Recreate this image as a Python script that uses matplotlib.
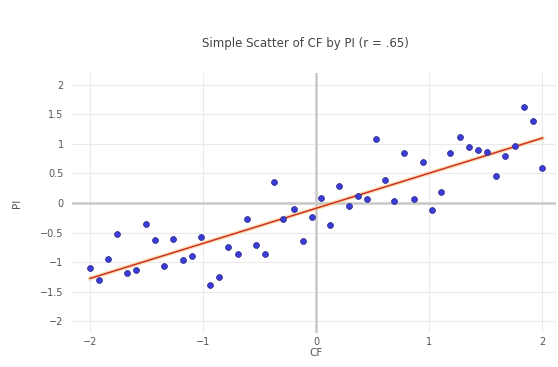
import numpy as np
import matplotlib
matplotlib.use('Agg')
import matplotlib.pyplot as plt

# Data
cf = [-2.00, -1.92, -1.84, -1.76, -1.67, -1.59, -1.51, -1.43, -1.35, -1.27,
      -1.18, -1.10, -1.02, -0.94, -0.86, -0.78, -0.69, -0.61, -0.53, -0.45,
      -0.37, -0.29, -0.20, -0.12, -0.04, 0.04, 0.12, 0.20, 0.29, 0.37,
      0.45, 0.53, 0.61, 0.69, 0.78, 0.86, 0.94, 1.02, 1.10, 1.18,
      1.27, 1.35, 1.43, 1.51, 1.59, 1.67, 1.76, 1.84, 1.92, 2.00]
pi = [-1.10, -1.30, -0.94, -0.53, -1.18, -1.14, -0.35, -0.63, -1.06, -0.61,
      -0.96, -0.90, -0.57, -1.38, -1.25, -0.74, -0.86, -0.27, -0.71, -0.86,
      0.35, -0.27, -0.10, -0.65, -0.23, 0.08, -0.38, 0.29, -0.05, 0.12,
      0.06, 1.09, 0.39, 0.03, 0.84, 0.07, 0.70, -0.12, 0.19, 0.85,
      1.12, 0.95, 0.89, 0.87, 0.45, 0.80, 0.96, 1.62, 1.39, 0.60]
x_ticks = [-2, -1, 0, 1, 2]
y_ticks = [-2, -1.5, -1, -0.5, 0, 0.5, 1, 1.5, 2]
title = "Simple Scatter of CF by PI (r = .65)"


def fmt(v):
    s = f"{v:g}"
    return s.replace("-", "\u2212")


fig = plt.figure(figsize=(5.58, 3.67), dpi=100)
ax = fig.add_axes([72 / 558, 1 - 333 / 367, 484 / 558, 260 / 367])

# grid and zero lines
for v in x_ticks:
    if v != 0:
        ax.axvline(v, color='#ebebeb', lw=0.8, zorder=0)
for v in y_ticks:
    if v != 0:
        ax.axhline(v, color='#ebebeb', lw=0.8, zorder=0)
ax.axvline(0, color='#c8c8c8', lw=1.8, zorder=1)
ax.axhline(0, color='#c8c8c8', lw=1.8, zorder=1)

# fitted line
slope, icpt = np.polyfit(cf, pi, 1)
xs = np.array([min(cf), max(cf)])
ax.plot(xs, icpt + slope * xs, color='#f5c26b', lw=3, alpha=0.5, zorder=2)
ax.plot(xs, icpt + slope * xs, color='#d0302a', lw=1.1, zorder=3)

ax.scatter(cf, pi, s=18, color='#3c3cd8', edgecolors='#262680',
           linewidths=0.5, zorder=4)

ax.set_xlim(-2.16, 2.12)
ax.set_ylim(-2.2, 2.2)
ax.set_xticks(x_ticks)
ax.set_yticks(y_ticks)
ax.set_xticklabels([fmt(v) for v in x_ticks])
ax.set_yticklabels([fmt(v) for v in y_ticks])
ax.tick_params(axis='x', length=0, labelsize=7, colors='#555555', pad=3)
ax.tick_params(axis='y', length=0, labelsize=7, colors='#555555', pad=6)
for s in ax.spines.values():
    s.set_visible(False)

fig.text(316 / 558, 1 - 353 / 367, "CF", ha='center', va='center',
         fontsize=7.5, color='#555555')
fig.text(17 / 558, 1 - 203 / 367, "PI", ha='center', va='center',
         rotation=90, fontsize=7.5, color='#555555')
fig.text(305 / 558, 1 - 44 / 367, title, ha='center', va='center',
         fontsize=8.5, color='#444444')

fig.savefig("out.png", dpi=100)
plt.close(fig)
